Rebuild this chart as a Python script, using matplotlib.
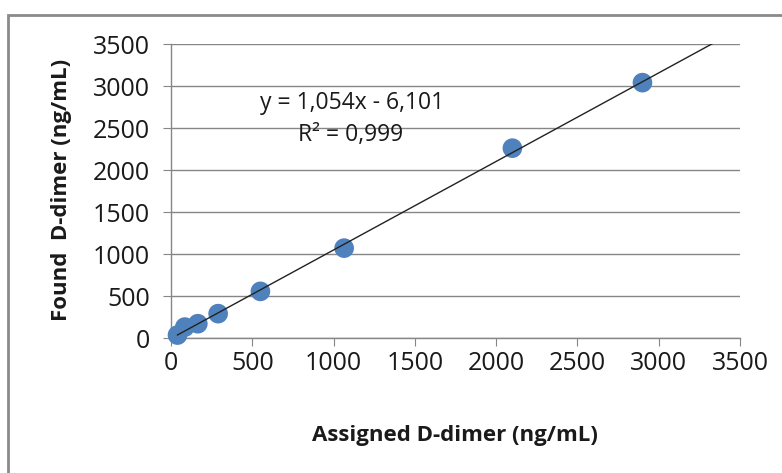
import matplotlib
matplotlib.use("Agg")
import matplotlib.pyplot as plt
import numpy as np
from matplotlib.patches import Rectangle

assigned = [40, 85, 165, 290, 550, 1065, 2100, 2900]
found = [35, 130, 170, 290, 555, 1070, 2260, 3040]
x_ticks = [0, 500, 1000, 1500, 2000, 2500, 3000, 3500]
y_ticks = [0, 500, 1000, 1500, 2000, 2500, 3000, 3500]
slope, intercept = 1.054, -6.101
eq_text = "y = 1,054x - 6,101"
r2_text = "R² = 0,999"

plt.rcParams['font.family'] = ['Open Sans', 'DejaVu Sans']

fig = plt.figure(figsize=(7.82, 4.73), dpi=100)
ax = fig.add_axes([171/782, 1-338/473, (740-171)/782, (338-44)/473])

grid_c = '#868686'
txt_c = '#1a1a1a'
ax.set_xlim(0, 3500)
ax.set_ylim(0, 3500)
ax.set_xticks(x_ticks)
ax.set_yticks(y_ticks)
ax.yaxis.grid(True, color=grid_c, linewidth=1)
ax.set_axisbelow(True)
for s in ['top', 'right']:
    ax.spines[s].set_visible(False)
for s in ['left', 'bottom']:
    ax.spines[s].set_color(grid_c)
    ax.spines[s].set_linewidth(1)
ax.tick_params(axis='both', direction='out', length=6, color=grid_c,
               labelsize=18, labelcolor=txt_c)
ax.tick_params(axis='y', pad=9)
ax.tick_params(axis='x', pad=3)

ax.scatter(assigned, found, s=200, color='#4F81BD', zorder=3, edgecolors='none', clip_on=False)
xs = np.array([min(assigned), 3500])
ax.plot(xs, slope*xs + intercept, color='#222222', linewidth=1, zorder=4)

fig.text(352/782, 1-103/473, eq_text, ha='center', va='center', fontsize=16.5, color=txt_c)
fig.text(351/782, 1-135/473, r2_text, ha='center', va='center', fontsize=16.5, color=txt_c)

fig.text(455/782, 1-435/473, 'Assigned D-dimer (ng/mL)', ha='center', va='center',
         fontsize=16, fontweight='bold', color=txt_c)
fig.text(62/782, 1-190/473, 'Found  D-dimer (ng/mL)', ha='center', va='center',
         rotation=90, fontsize=16, fontweight='bold', color=txt_c)

fig.patches.append(Rectangle((8/782, -0.2), 1.2, 1-15/473+0.2, transform=fig.transFigure,
                             fill=False, edgecolor='#8a8a8a', linewidth=2))

fig.savefig('out.png', dpi=100, facecolor='white')
